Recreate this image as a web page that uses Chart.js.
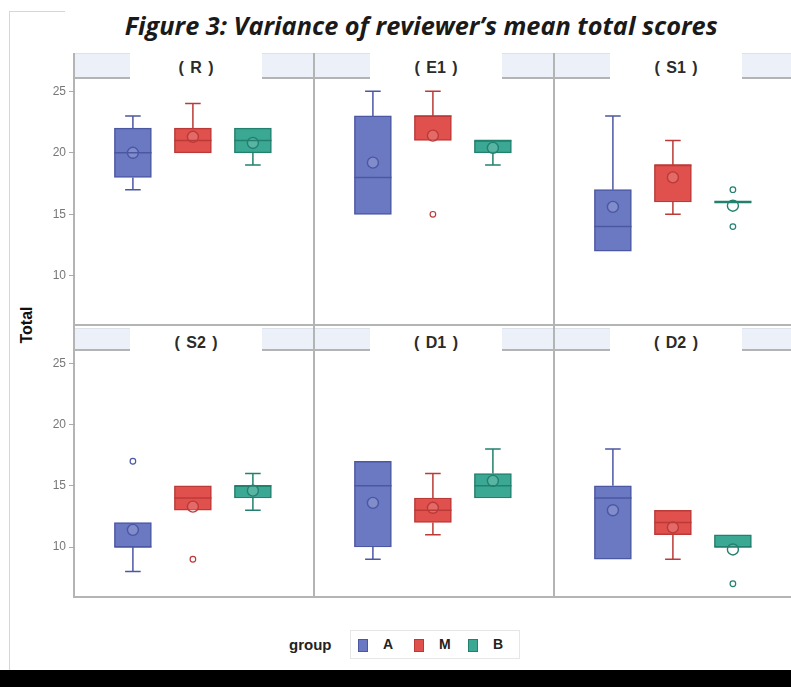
<!DOCTYPE html>
<html>
<head>
<meta charset="utf-8">
<script src="https://cdn.jsdelivr.net/npm/chart.js@4/dist/chart.umd.min.js"></script>
<style>
  html, body { margin: 0; padding: 0; background: #fff; width: 791px; height: 687px; overflow: hidden; position: relative; }
  .abs { position: absolute; }
  #title { left: 0; top: 8px; width: 843px; text-align: center; font-family: "Open Sans", sans-serif; font-weight: 700; font-style: italic; font-size: 25px; color: #1a1a1a; white-space: nowrap; }
  #title span { display: inline-block; transform-origin: center; background: #fff; }
  .vline { background: #b4b4b4; width: 2px; }
  .hline { background: #b4b4b4; height: 2px; }
  .hdr { background: #ecf0f8; border-top: 1px solid #dce1eb; border-bottom: 2px solid #b4b4b4; }
  .hdrlab { background: #fff; text-align: center; font-family: "Liberation Sans", Arial, sans-serif; font-weight: 700; font-size: 16px; word-spacing: 2px; color: #2b2b2b; line-height: 29px; }
  #ylab { font-family: "Liberation Sans", Arial, sans-serif; font-weight: 700; font-size: 16px; color: #111; transform: rotate(-90deg); transform-origin: center; width: 60px; text-align: center; left: -3px; top: 316px; }
  .leg { font-family: "Liberation Sans", Arial, sans-serif; font-weight: 700; font-size: 14px; color: #222; }
  .sw { width: 8px; height: 11px; }
</style>
</head>
<body>
<div class="abs" style="left:9px;top:11px;width:56px;height:1px;background:#d6d6d6"></div>
<div class="abs" style="left:9px;top:11px;width:1px;height:659px;background:#d6d6d6"></div>
<div id="title" class="abs"><span id="titleText">Figure 3: Variance of reviewer’s mean total scores</span></div>
<div id="ylab" class="abs">Total</div>
<div id="frame"></div>
<div class="abs" style="left:350px;top:630px;width:168px;height:27px;border:1px solid #e6e6e6"></div>
<div class="abs leg" style="left:289px;top:636px;font-size:15px">group</div>
<div id="legend"></div>
<div class="abs" style="left:0;top:670px;width:791px;height:17px;background:#000"></div>

<script>
// Facet titles and group names
const panelNames = ['( R )', '( E1 )', '( S1 )', '( S2 )', '( D1 )', '( D2 )'];
const groups = ['A', 'M', 'B'];
const yTicks = [10, 15, 20, 25];

// Box statistics, one row per facet, one entry per group (A, M, B)
const whiskerLow = [[17, 20, 19], [15, 21, 19], [12, 15, 16], [8, 13, 13], [9, 11, 14], [9, 9, 10]];
const q1         = [[18, 20, 20], [15, 21, 20], [12, 16, 16], [10, 13, 14], [10, 12, 14], [9, 11, 10]];
const medians    = [[20, 21, 21], [18, 23, 21], [14, 19, 16], [10, 14, 15], [15, 13, 15], [14, 12, 10]];
const q3         = [[22, 22, 22], [23, 23, 21], [17, 19, 16], [12, 15, 15], [17, 14, 16], [15, 13, 11]];
const whiskerHigh= [[23, 24, 22], [25, 25, 21], [23, 21, 16], [12, 15, 16], [17, 16, 18], [18, 13, 11]];
const means      = [[20.0, 21.3, 20.8], [19.2, 21.4, 20.4], [15.6, 18.0, 15.7], [11.4, 13.3, 14.6], [13.6, 13.2, 15.4], [13.0, 11.6, 9.8]];
const outliers   = [[[], [], []], [[], [15], []], [[], [], [17, 14]], [[17], [9], []], [[], [], []], [[], [], [7]]];

const fills = ['#6b78c2', '#e0504d', '#3ba894'];
const edges = ['#4c57a3', '#bb3a38', '#23806f'];

// Facet grid geometry
const colX = [75, 315, 555];
const colW = 240;
const rowHeaderTop = [53, 328];
const rowPlotTop = [79, 351];
const rowPlotH = [246, 245];

const frame = document.getElementById('frame');
function addDiv(cls, style, text) {
  const d = document.createElement('div');
  d.className = 'abs ' + cls;
  d.setAttribute('style', style);
  if (text) d.textContent = text;
  frame.appendChild(d);
  return d;
}

// Strip headers and cell borders
for (let r = 0; r < 2; r++) {
  for (let c = 0; c < 3; c++) {
    const p = r * 3 + c;
    const top = rowHeaderTop[r];
    const h = rowPlotTop[r] - top - 3;
    addDiv('hdr', `left:${colX[c]}px;top:${top}px;width:${colW}px;height:${h}px`);
    addDiv('hdrlab', `left:${colX[c] + 55}px;top:${top}px;width:132px;height:${h + 3}px`, panelNames[p]);
  }
}
[74, 314, 554].forEach(x => addDiv('vline', `left:${x - 1}px;top:53px;height:545px`));
addDiv('hline', 'left:73px;top:324px;width:720px');
addDiv('hline', 'left:73px;top:596px;width:720px');

// Legend entries
const legend = document.getElementById('legend');
const legX = [358, 414, 468];
groups.forEach((g, i) => {
  const s = document.createElement('div');
  s.className = 'abs sw';
  s.setAttribute('style', `left:${legX[i]}px;top:639px;background:${fills[i]};border:1px solid ${edges[i]}`);
  legend.appendChild(s);
  const t = document.createElement('div');
  t.className = 'abs leg';
  t.setAttribute('style', `left:${legX[i] + 25}px;top:636px`);
  t.textContent = g;
  legend.appendChild(t);
});

// Title width
const tt = document.getElementById('titleText');
tt.style.transform = `scaleX(${593 / tt.getBoundingClientRect().width})`;

// Whiskers under the boxes, medians above them
const boxParts = {
  id: 'boxParts',
  beforeDatasetsDraw(chart, args, opts) {
    const p = opts.panel, xs = chart.scales.x, ys = chart.scales.y, ctx = chart.ctx;
    ctx.save();
    ctx.lineWidth = 1.5;
    groups.forEach((g, i) => {
      const x = xs.getPixelForValue(i + 1);
      const cap = xs.getPixelForValue(i + 1.13) - x;
      ctx.strokeStyle = edges[i];
      [[whiskerLow[p][i], q1[p][i]], [whiskerHigh[p][i], q3[p][i]]].forEach(([end, base]) => {
        if (end === base) return;
        const ye = ys.getPixelForValue(end), yb = ys.getPixelForValue(base);
        ctx.beginPath();
        ctx.moveTo(x, yb); ctx.lineTo(x, ye);
        ctx.moveTo(x - cap, ye); ctx.lineTo(x + cap, ye);
        ctx.stroke();
      });
    });
    ctx.restore();
  },
  afterDatasetsDraw(chart, args, opts) {
    const p = opts.panel, xs = chart.scales.x, ys = chart.scales.y, ctx = chart.ctx;
    ctx.save();
    groups.forEach((g, i) => {
      const x = xs.getPixelForValue(i + 1);
      const half = xs.getPixelForValue(i + 1.31) - x;
      const y = ys.getPixelForValue(medians[p][i]);
      ctx.strokeStyle = edges[i];
      ctx.lineWidth = q1[p][i] === q3[p][i] ? 2.5 : 1.5;
      ctx.beginPath();
      ctx.moveTo(x - half, y); ctx.lineTo(x + half, y);
      ctx.stroke();
    });
    ctx.restore();
  }
};

function makePanel(p) {
  const r = Math.floor(p / 3), c = p % 3;
  const left = c === 0;
  const cv = document.createElement('canvas');
  const axisW = left ? 35 : 0;
  const w = colW + axisW, h = rowPlotH[r];
  cv.width = w; cv.height = h;
  cv.className = 'abs';
  cv.setAttribute('style', `left:${colX[c] - axisW}px;top:${rowPlotTop[r]}px;width:${w}px;height:${h}px`);
  document.body.appendChild(cv);

  const boxes = groups.map((g, i) => ({ x: i + 1, y: [q1[p][i], q3[p][i]] }));
  const meanPts = groups.map((g, i) => ({ x: i + 1, y: means[p][i], g: i }));
  const outPts = [];
  groups.forEach((g, i) => outliers[p][i].forEach(v => outPts.push({ x: i + 1, y: v, g: i })));

  new Chart(cv, {
    type: 'bar',
    data: {
      datasets: [
        {
          type: 'bar', data: boxes, grouped: false, barThickness: 37,
          backgroundColor: fills, borderColor: edges, borderWidth: 1.5, borderSkipped: false, order: 3
        },
        {
          type: 'scatter', data: meanPts, order: 1,
          pointStyle: 'circle', pointRadius: 5.5, pointBorderWidth: 1.4,
          pointBackgroundColor: 'rgba(255,255,255,0.15)',
          pointBorderColor: ctx => edges[ctx.raw ? ctx.raw.g : 0]
        },
        {
          type: 'scatter', data: outPts, order: 2,
          pointStyle: 'circle', pointRadius: 2.8, pointBorderWidth: 1.2,
          pointBackgroundColor: 'rgba(255,255,255,0)',
          pointBorderColor: ctx => edges[ctx.raw ? ctx.raw.g : 0]
        }
      ]
    },
    options: {
      responsive: false, animation: false, devicePixelRatio: 1,
      layout: { padding: 0, autoPadding: false },
      plugins: { legend: { display: false }, tooltip: { enabled: false }, boxParts: { panel: p } },
      scales: {
        x: { type: 'linear', min: 0.035, max: 4.035, offset: false, display: false },
        y: {
          type: 'linear', min: 6, max: 26, display: left,
          afterBuildTicks: s => { s.ticks = yTicks.map(v => ({ value: v })); },
          afterFit: s => { s.width = axisW; s.paddingTop = 0; s.paddingBottom = 0; },
          ticks: { color: '#777', font: { family: 'Liberation Sans, Arial, sans-serif', size: 12 }, padding: 3 },
          grid: { drawOnChartArea: false, tickLength: 6, color: '#aaa', lineWidth: 1 },
          border: { display: false }
        }
      }
    },
    plugins: [boxParts]
  });
}

for (let p = 0; p < 6; p++) makePanel(p);
</script>
</body>
</html>
